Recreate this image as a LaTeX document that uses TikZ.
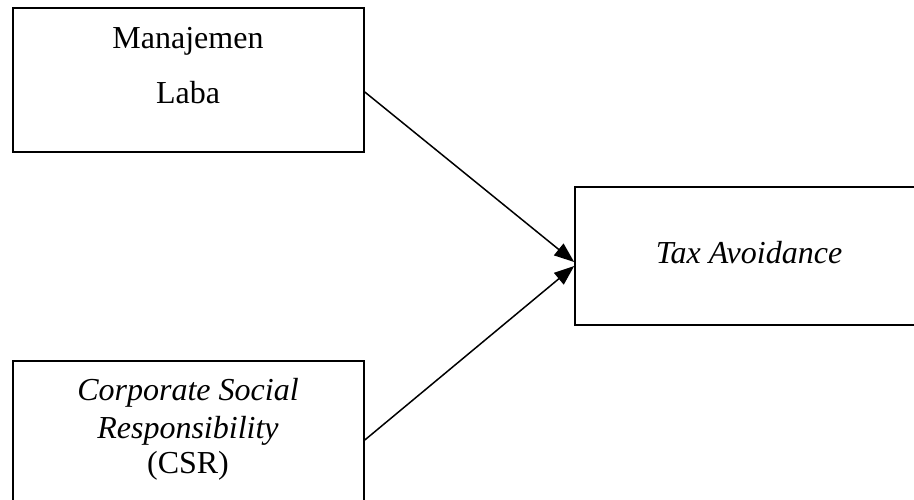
\documentclass[tikz,border=0pt]{standalone}
\usepackage{fontspec}
\setmainfont{Liberation Serif}
\usetikzlibrary{arrows.meta}

\begin{document}
\begin{tikzpicture}[
    x=1pt, y=-1pt,
    font=\fontsize{32}{38}\selectfont,
    box/.style={draw=black,line width=1.6pt,rectangle,inner sep=0pt},
    txt/.style={anchor=base,inner sep=0pt},
    ar/.style={-{Triangle[length=20pt,width=15pt]},line width=1.5pt}
  ]
  \useasboundingbox (0,0) rectangle (914,499);
  \clip (0,0) rectangle (914,499);

  % variables
  \node[box,minimum width=351pt,minimum height=144pt] (laba) at (188.5,80) {};
  \node[txt] (labaA) at (188,48) {Manajemen};
  \node[txt] (labaB) at (188,103) {Laba};

  \node[box,minimum width=351pt,minimum height=150pt] (csr) at (188.5,436) {};
  \node[txt] (csrA) at (188,400) {\itshape Corporate Social};
  \node[txt] (csrB) at (188,438) {\itshape Responsibility};
  \node[txt] (csrC) at (188,473) {(CSR)};

  \node[box,minimum width=350pt,minimum height=138pt] (tax) at (750,256) {};
  \node[txt] (taxA) at (749,263) {\itshape Tax Avoidance};

  % arrows
  \draw[ar] ([yshift=-12pt]laba.east) -- ([yshift=-6pt]tax.west);
  \draw[ar] ([yshift=-4pt]csr.east) -- ([yshift=-10pt]tax.west);
\end{tikzpicture}
\end{document}
